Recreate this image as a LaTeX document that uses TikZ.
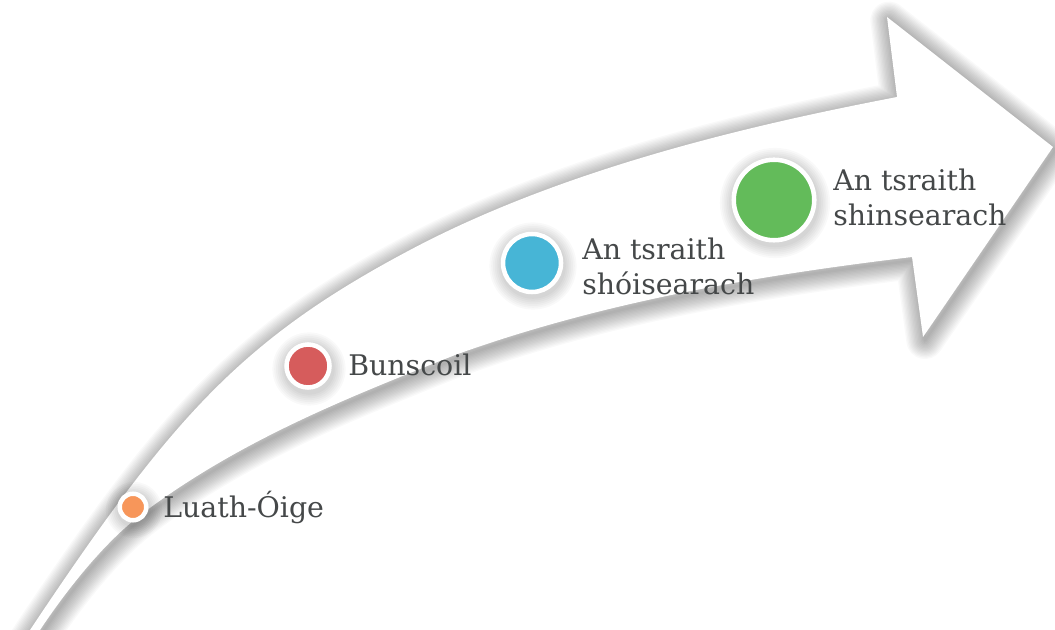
\documentclass[tikz,border=0pt]{standalone}
\usepackage{fontspec}
\setmainfont{DejaVu Serif}
\definecolor{txt}{HTML}{454849}
\definecolor{c1}{HTML}{F7965A}
\definecolor{c2}{HTML}{D65C5C}
\definecolor{c3}{HTML}{47B5D6}
\definecolor{c4}{HTML}{63BB5A}
\tikzset{
  dot/.style={circle, draw=white, line width=3.4pt, inner sep=0pt},
  lbl/.style={anchor=base west, inner sep=0pt, text=txt, align=left,
    font=\fontsize{21.3pt}{26.25pt}\selectfont},
  glow/.style={black, opacity=0.022, line join=round}
}
\begin{document}
\begin{tikzpicture}[x=0.75pt,y=-0.75pt]
\useasboundingbox (0,0) rectangle (1055,630);
\clip (0,0) rectangle (1055,630);
\fill[white] (0,0) rectangle (1055,630);
\path[save path=\arrowsaved] (897,97) -- (887,17) -- (1053,147) -- (923,337) -- (912,257)
  .. controls (762,275) and (605,301) .. (455,355)
  .. controls (355,395) and (243,438) .. (143,513)
  .. controls (103,543) and (65,592.5) .. (40,630)
  -- (28,650) -- (17,650) -- (30,630)
  .. controls (170,420) and (240,340) .. (410,250)
  .. controls (570,165) and (767,122) .. (897,97)
  -- cycle;
\begin{scope}[transform canvas={shift={(1.5pt,-2.5pt)}}]
\foreach \k in {1,...,14}{
  \draw[glow, line width=\k*2pt, use path=\arrowsaved];
}
\end{scope}
\fill[white, use path=\arrowsaved];
\foreach \cx/\cy/\r in {133/507/15.5, 308/366/24, 532/263/31, 774/200/42.5}{
  \foreach \k in {1,...,7}{
    \fill[black, opacity=0.022] (\cx+1,\cy+3) circle ({\r+\k*1.8});
  }
}
\node[dot, fill=c1, minimum size=19.9pt] (d1) at (133,507) {};
\node[lbl] (t1) at (163,517) {Luath-Óige};
\node[dot, fill=c2, minimum size=32.25pt] (d2) at (308,366) {};
\node[lbl] (t2) at (348,376) {Bunscoil};
\node[dot, fill=c3, minimum size=43.5pt] (d3) at (532,263) {};
\node[lbl] (t3) at (582,295) {An tsraith\\shóisearach};
\node[dot, fill=c4, minimum size=60.4pt] (d4) at (774,200) {};
\node[lbl] (t4) at (833,226) {An tsraith\\shinsearach};
\end{tikzpicture}
\end{document}
